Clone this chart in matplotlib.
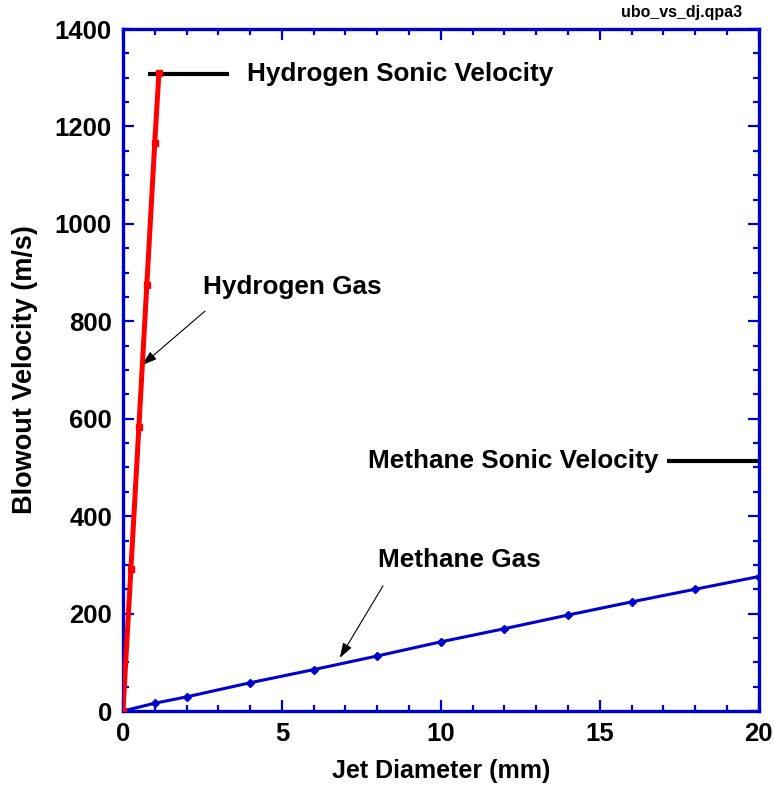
import matplotlib
matplotlib.use("Agg")
import matplotlib.pyplot as plt
from matplotlib.ticker import MultipleLocator

plt.rcParams['font.family'] = ['Liberation Sans', 'DejaVu Sans']
plt.rcParams['font.weight'] = 'bold'

# jet diameter (mm) vs blowout velocity (m/s)
h2_dj = [0, 0.25, 0.5, 0.75, 1.0, 1.13]
h2_ubo = [0, 292, 583, 875, 1167, 1310]

ch4_dj = [0, 1, 2, 4, 6, 8, 10, 12, 14, 16, 18, 20]
ch4_ubo = [0, 16, 29, 58, 85, 113, 142, 169, 197, 224, 250, 276]

h2_sonic = 1307
ch4_sonic = 513

blue = '#0000cc'

fig = plt.figure(figsize=(7.75, 7.93), dpi=100)
ax = fig.add_axes([0.1587, 0.1034, 0.8203, 0.8600])

ax.plot(ch4_dj, ch4_ubo, color=blue, lw=2.2, marker='D', ms=4, zorder=3)
ax.plot(h2_dj, h2_ubo, color='red', lw=3.6, marker='s', ms=5, zorder=4)

# sonic velocity reference lines
ax.plot([0.8, 3.35], [h2_sonic, h2_sonic], color='black', lw=3, solid_capstyle='butt')
ax.text(3.9, h2_sonic, 'Hydrogen Sonic Velocity', fontsize=18.8, fontweight='bold',
        va='center', ha='left')
ax.plot([17.1, 20], [ch4_sonic, ch4_sonic], color='black', lw=3, solid_capstyle='butt',
        clip_on=False)
ax.text(16.85, ch4_sonic, 'Methane Sonic Velocity', fontsize=18.8, fontweight='bold',
        va='center', ha='right')

# curve labels with pointer arrows
arrow = dict(arrowstyle='-|>,head_length=0.9,head_width=0.3', color='black', lw=0.8,
             shrinkA=0, shrinkB=0)
ax.text(2.52, 871, 'Hydrogen Gas', fontsize=18.8, fontweight='bold', ha='left', va='center')
ax.annotate('', xy=(0.6, 710), xytext=(2.58, 821), arrowprops=arrow)
ax.text(8.02, 309, 'Methane Gas', fontsize=18.8, fontweight='bold', ha='left', va='center')
ax.annotate('', xy=(6.82, 109), xytext=(8.18, 257), arrowprops=arrow)

ax.set_xlim(0, 20)
ax.set_ylim(0, 1400)
ax.xaxis.set_major_locator(MultipleLocator(5))
ax.xaxis.set_minor_locator(MultipleLocator(1))
ax.yaxis.set_major_locator(MultipleLocator(200))
ax.yaxis.set_minor_locator(MultipleLocator(50))

for s in ax.spines.values():
    s.set_color(blue)
    s.set_linewidth(2.4)
ax.tick_params(which='both', direction='in', color=blue, top=True, right=True,
               labelsize=18.5, width=1.6, pad=8)
ax.tick_params(which='major', length=8)
ax.tick_params(which='minor', length=4.5)
for lab in ax.get_xticklabels() + ax.get_yticklabels():
    lab.set_fontweight('bold')

ax.set_xlabel('Jet Diameter (mm)', fontsize=18, fontweight='bold', labelpad=9)
ax.set_ylabel('Blowout Velocity (m/s)', fontsize=19.5, fontweight='bold', labelpad=12)

fig.text(0.958, 0.984, 'ubo_vs_dj.qpa3', fontsize=11.5, fontweight='bold',
         ha='right', va='center')

fig.savefig('out.png', dpi=100)
